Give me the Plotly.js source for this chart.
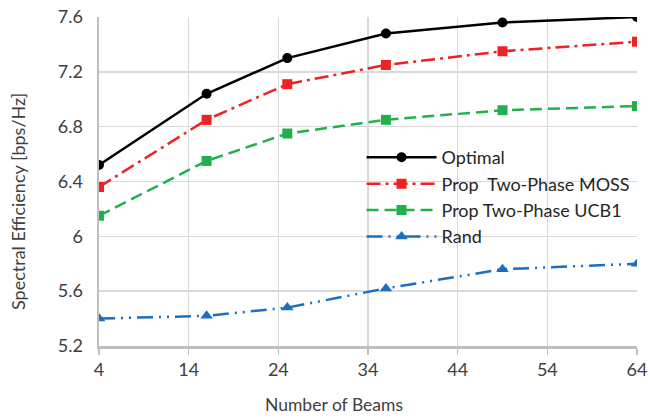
<!DOCTYPE html>
<html>
<head>
<meta charset="utf-8">
<script src="https://cdn.plot.ly/plotly-3.0.1.min.js"></script>
<style>html,body{margin:0;padding:0;background:#fff;}#chart{width:650px;height:418px;}</style>
</head>
<body>
<div id="chart"></div>
<script>
const beams = [4, 16, 25, 36, 49, 64];
const optimal = [6.52, 7.04, 7.30, 7.48, 7.56, 7.60];
const moss = [6.36, 6.85, 7.11, 7.25, 7.35, 7.42];
const ucb1 = [6.15, 6.55, 6.75, 6.85, 6.92, 6.95];
const rand = [5.40, 5.42, 5.48, 5.62, 5.76, 5.80];
const names = ["Optimal", "Prop  Two-Phase MOSS", "Prop Two-Phase UCB1", "Rand"];
const xTicks = [4, 14, 24, 34, 44, 54, 64];
const yTicks = [5.2, 5.6, 6, 6.4, 6.8, 7.2, 7.6];
const xTitle = "Number of Beams";
const yTitle = "Spectral Efficiency [bps/Hz]";

const FONT = "Lato, 'Open Sans', sans-serif";
const traces = [
  {x: beams, y: optimal, name: names[0], mode: "lines+markers",
   line: {color: "#000000", width: 2.5}, marker: {symbol: "circle", size: 10, color: "#000000"}},
  {x: beams, y: moss, name: names[1], mode: "lines+markers",
   line: {color: "#ee2222", width: 2.5, dash: "14px,5px,3px,5px"}, marker: {symbol: "square", size: 10, color: "#ee2222"}},
  {x: beams, y: ucb1, name: names[2], mode: "lines+markers",
   line: {color: "#22b04c", width: 2.5, dash: "12px,6px"}, marker: {symbol: "square", size: 10, color: "#22b04c"}},
  {x: beams, y: rand, name: names[3], mode: "lines+markers",
   line: {color: "#1b6fc0", width: 2.5, dash: "16px,6px,2px,6px,2px,6px"}, marker: {symbol: "triangle-up", size: 11, color: "#1b6fc0"}}
];

const layout = {
  width: 650, height: 418,
  margin: {l: 99, r: 13, t: 17, b: 72},
  paper_bgcolor: "#ffffff", plot_bgcolor: "#ffffff",
  font: {family: FONT, size: 18, color: "#404040"},
  showlegend: true,
  legend: {x: 0.488, y: 0.629, xanchor: "left", yanchor: "top", bgcolor: "rgba(0,0,0,0)",
           font: {family: FONT, size: 18, color: "#262626"}, tracegroupgap: 0, itemwidth: 70},
  xaxis: {
    range: [4, 64], tickvals: xTicks, ticktext: xTicks.map(String),
    showgrid: true, gridcolor: "#d9d9d9", gridwidth: 1.5,
    showline: true, linecolor: "#bfbfbf", linewidth: 2.5,
    ticks: "outside", ticklen: 6, tickcolor: "#bfbfbf", tickwidth: 1.5,
    zeroline: false, tickfont: {size: 18, color: "#404040"}
  },
  yaxis: {
    range: [5.2, 7.6], tickvals: yTicks, ticktext: yTicks.map(v => String(v)),
    showgrid: true, gridcolor: "#d9d9d9", gridwidth: 1.5,
    showline: true, linecolor: "#bfbfbf", linewidth: 2.5,
    ticks: "", ticklabelstandoff: 10, zeroline: false, tickfont: {size: 18, color: "#404040"}
  },
  annotations: [
    {text: xTitle, xref: "paper", yref: "paper", x: 0.4368, y: -0.179, xanchor: "center", yanchor: "middle",
     showarrow: false, font: {family: FONT, size: 17.5, color: "#404040"}},
    {text: yTitle, xref: "paper", yref: "paper", x: -0.1506, y: 0.4407, xanchor: "center", yanchor: "middle",
     textangle: -90, showarrow: false, font: {family: FONT, size: 18, color: "#404040"}}
  ]
};

Plotly.newPlot("chart", traces, layout, {displayModeBar: false, staticPlot: true});
</script>
</body>
</html>
